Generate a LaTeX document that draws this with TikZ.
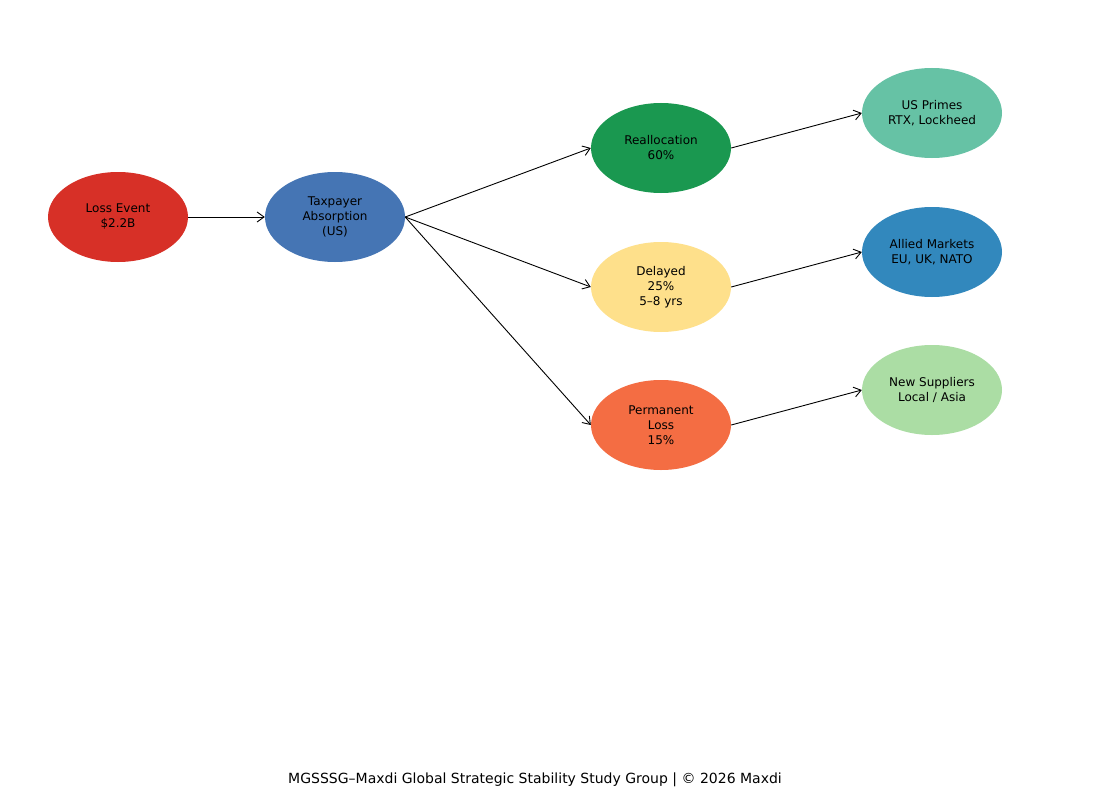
\documentclass[tikz,border=0pt]{standalone}
\usepackage{fontspec}
\setmainfont{DejaVu Sans}
\usetikzlibrary{arrows.meta,shapes.geometric}
\definecolor{cRed}{HTML}{D73027}
\definecolor{cBlue}{HTML}{4575B4}
\definecolor{cGreen}{HTML}{1A9850}
\definecolor{cYellow}{HTML}{FEE08B}
\definecolor{cOrange}{HTML}{F46D43}
\definecolor{cTeal}{HTML}{66C2A5}
\definecolor{cBlue2}{HTML}{3288BD}
\definecolor{cLGreen}{HTML}{ABDDA4}
\begin{document}
\begin{tikzpicture}[x=1pt,y=-1pt,
  blob/.style={ellipse,minimum width=140pt,minimum height=90pt,inner sep=0pt,align=center,font=\fontsize{12}{15}\selectfont},
  conn/.style={-{Straight Barb[length=7pt,width=10pt]},line width=0.9pt}]
\useasboundingbox[fill=white] (0,0) rectangle (1105,797);
\node[blob,fill=cRed] (loss) at (118,217) {Loss Event\\\$2.2B};
\node[blob,fill=cBlue] (tax) at (335,217) {Taxpayer\\Absorption\\(US)};
\node[blob,fill=cGreen] (re) at (661,148) {Reallocation\\60\%};
\node[blob,fill=cYellow] (de) at (661,287) {Delayed\\25\%\\5–8 yrs};
\node[blob,fill=cOrange] (pe) at (661,425) {Permanent\\Loss\\15\%};
\node[blob,fill=cTeal] (us) at (932,113) {US Primes\\RTX, Lockheed};
\node[blob,fill=cBlue2] (al) at (932,252) {Allied Markets\\EU, UK, NATO};
\node[blob,fill=cLGreen] (ne) at (932,390) {New Suppliers\\Local / Asia};
\draw[conn] (loss.east) -- (tax.west);
\draw[conn] (tax.east) -- (re.west);
\draw[conn] (tax.east) -- (de.west);
\draw[conn] (tax.east) -- (pe.west);
\draw[conn] (re.east) -- (us.west);
\draw[conn] (de.east) -- (al.west);
\draw[conn] (pe.east) -- (ne.west);
\node[font=\fontsize{14}{16}\selectfont] (foot) at (535,780) {MGSSSG–Maxdi Global Strategic Stability Study Group | © 2026 Maxdi};
\end{tikzpicture}
\end{document}
